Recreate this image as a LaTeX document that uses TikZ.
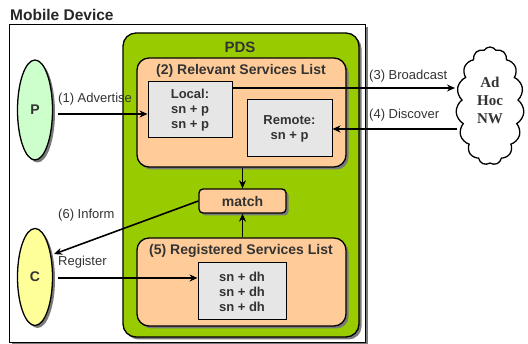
\documentclass[tikz,border=0pt]{standalone}
\usepackage{fontspec}
\setmainfont{Liberation Sans}
\newfontfamily\cloudfont{Liberation Serif}
\usetikzlibrary{shapes.geometric,shapes.symbols,shadows,arrows.meta,calc}
\definecolor{pdsgreen}{HTML}{99CC00}
\definecolor{peach}{HTML}{FFCC99}
\definecolor{lgray}{HTML}{E6E6E6}
\definecolor{txt}{HTML}{333333}
\definecolor{pgreen}{HTML}{CCFFCC}
\definecolor{cyellow}{HTML}{FFFF99}
\definecolor{shadgray}{HTML}{7A7A7A}
\tikzset{
  shad/.style={drop shadow={shadow xshift=2.5pt, shadow yshift=-2.5pt, fill=shadgray, opacity=1}},
  outerbox/.style={draw, line width=1pt, fill=white, shad, minimum width=356pt, minimum height=318pt, inner sep=0pt},
  greenbox/.style={draw, line width=1.3pt, fill=pdsgreen, rounded corners=13pt, shad, inner sep=0pt},
  peachbox/.style={draw, line width=1.3pt, fill=peach, rounded corners=12pt, shad, inner sep=0pt},
  itembox/.style={draw, line width=1pt, fill=lgray, inner sep=0pt, align=center, text=txt,
     font=\fontsize{13}{15}\selectfont\bfseries},
  matchbox/.style={draw, line width=1.3pt, fill=peach, rounded corners=4pt, shad, inner sep=0pt,
     text=txt, font=\fontsize{14}{16}\selectfont\bfseries},
  actor/.style={ellipse, draw, line width=1.3pt, shad, inner sep=0pt, text=txt,
     font=\fontsize{14}{16}\selectfont\bfseries},
  ttl/.style={text=txt, font=\fontsize{14}{16}\selectfont\bfseries, inner sep=0pt},
  lbl/.style={text=txt, font=\fontsize{13}{15}\selectfont, inner sep=0pt, anchor=west},
  arr/.style={line width=1.6pt, -{Stealth[length=8pt,width=7pt]}},
}
\begin{document}
\begin{tikzpicture}[x=1pt,y=-1pt]
\useasboundingbox (0,0) rectangle (528,344);
\node[ttl, anchor=west, text=black!85, font=\fontsize{15.5}{17}\selectfont\bfseries] (mdlabel) at (10,15) {Mobile Device};
\node[outerbox] (outer) at (187,184) {};
\node[greenbox, minimum width=236pt, minimum height=304pt] (pds) at (241,185) {};
\node[ttl, font=\fontsize{15}{17}\selectfont\bfseries] (pdslabel) at (240,47) {PDS};
\node[peachbox, minimum width=209pt, minimum height=109pt] (rel) at (241.5,112.5) {};
\node[ttl] (reltitle) at (241,71) {(2) Relevant Services List};
\node[itembox, minimum width=84pt, minimum height=56pt] (local) at (190,110) {Local:\\sn + p\\sn + p};
\node[itembox, minimum width=85pt, minimum height=57pt] (remote) at (289.5,128.5) {Remote:\\sn + p};
\node[matchbox, minimum width=87pt, minimum height=24pt] (match) at (242.5,201) {match};
\node[peachbox, minimum width=209pt, minimum height=88pt] (reg) at (241.5,282) {};
\node[ttl] (regtitle) at (241,251) {(5) Registered Services List};
\node[itembox, minimum width=88pt, minimum height=57pt] (reginner) at (242,291.5) {sn + dh\\sn + dh\\sn + dh};
\node[actor, fill=pgreen, minimum width=35pt, minimum height=100pt] (P) at (35,110) {P};
\node[actor, fill=cyellow, minimum width=35pt, minimum height=97pt] (C) at (35,277) {C};
\node[cloud, draw, line width=1.3pt, fill=white, cloud puffs=15, cloud puff arc=115, aspect=0.55,
      minimum width=68pt, minimum height=118pt, inner sep=0pt] (net) at (490,106) {};
\node[align=center, inner sep=0pt, text=txt, font=\cloudfont\fontsize{15}{18}\selectfont\bfseries] (nettext) at (490,100) {Ad\\Hoc\\NW};
% coordinates for horizontal arrows
\coordinate (yadv) at (0,114);
\coordinate (ybc) at (0,88);
\coordinate (yreg) at (0,278);
\coordinate (advstart) at (58,114);
\coordinate (regstart) at (58,278);
\coordinate (bcend) at (455,88);
\coordinate (dcstart) at (457,129);
\draw[arr] (advstart) -- (local.west |- yadv);
\draw[arr] (local.east |- ybc) -- (bcend);
\draw[arr] (dcstart) -- (remote.east |- dcstart);
\draw[arr] (rel.south -| match.north) -- (match.north);
\draw[arr] (reg.north -| match.south) -- (match.south);
\draw[arr] (match.west) -- ([xshift=3pt]C.55);
\draw[arr] (regstart) -- (reginner.west |- yreg);
\node[lbl] (l1) at (58,99) {(1) Advertise};
\node[lbl] (l3) at (369,76) {(3) Broadcast};
\node[lbl] (l4) at (369,115) {(4) Discover};
\node[lbl] (l6) at (58,215) {(6) Inform};
\node[lbl] (l5) at (58,262) {Register};
\end{tikzpicture}
\end{document}
